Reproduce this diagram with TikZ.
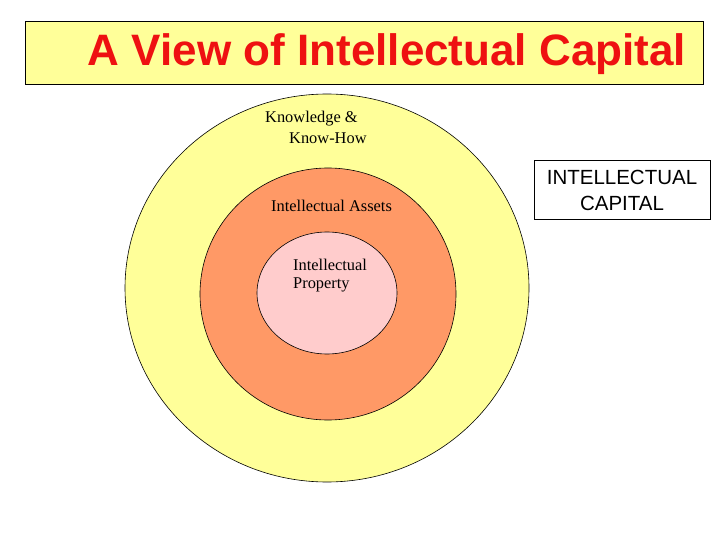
\documentclass[tikz,border=0pt]{standalone}
\usepackage{fontspec}
\setmainfont{Liberation Serif}
\newfontfamily\arialf{Liberation Sans}
\usetikzlibrary{shapes.geometric}
\definecolor{lyellow}{HTML}{FFFF99}
\definecolor{lorange}{HTML}{FF9966}
\definecolor{lpink}{HTML}{FFCCCC}
\definecolor{tred}{HTML}{EE1111}
\tikzset{ring/.style={draw=black,line width=0.6pt},
lbl/.style={font=\fontsize{16.4}{19}\selectfont,anchor=west,inner sep=0pt}}
\begin{document}
\begin{tikzpicture}[x=1pt,y=-1pt]
\useasboundingbox (0,0) rectangle (720,540);
\node[draw=black,fill=lyellow,minimum width=678pt,minimum height=63pt,anchor=north west,inner sep=0pt,line width=0.6pt] (title) at (25,21) {};
\node[text=tred,font=\arialf\bfseries\fontsize{44}{48}\selectfont] (tt) at (387,54) {A View of Intellectual Capital};
\draw[ring,fill=lyellow] (327,288) ellipse [x radius=202,y radius=194];
\draw[ring,fill=lorange] (328,294) ellipse [x radius=128,y radius=126];
\draw[ring,fill=lpink] (327,293) ellipse [x radius=70,y radius=61];
\node[lbl] (k1) at (265,119) {Knowledge \&};
\node[lbl] (k2) at (289,138) {Know-How};
\node[lbl] (ia) at (271,206) {Intellectual Assets};
\node[lbl] (ip1) at (293,265) {Intellectual};
\node[lbl] (ip2) at (293,285) {Property};
\node[draw=black,fill=white,minimum width=176pt,minimum height=59pt,anchor=north west,inner sep=0pt,line width=0.6pt] (icbox) at (534,160) {};
\node[font=\arialf\fontsize{20.5}{26}\selectfont,align=center] (ic) at (622,190) {INTELLECTUAL\\CAPITAL};
\end{tikzpicture}
\end{document}
